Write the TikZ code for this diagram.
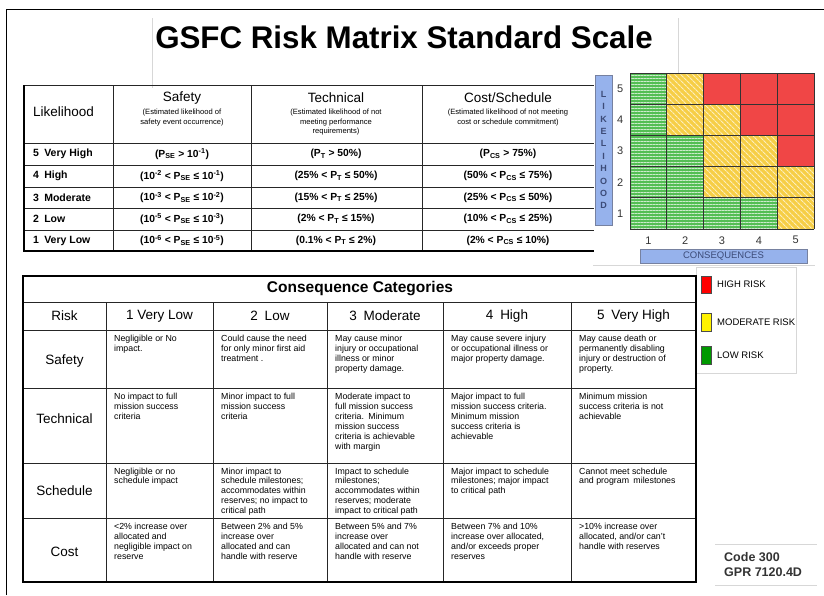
\documentclass[tikz,border=0pt]{standalone}
\usepackage{fontspec}
\setmainfont{Liberation Sans}
\usetikzlibrary{patterns.meta}

\definecolor{mgreen}{RGB}{84,190,84}
\definecolor{myellow}{RGB}{246,206,70}
\definecolor{mred}{RGB}{240,66,66}
\definecolor{barblue}{RGB}{150,178,236}
\definecolor{bardark}{RGB}{60,75,120}
\definecolor{faint}{RGB}{215,215,215}

\begin{document}
\begin{tikzpicture}[x=1pt,y=-1pt,every node/.style={inner sep=0pt},
   outer/.style={line width=2pt},
   inner/.style={line width=0.9pt,draw=black!85},
   thead/.style={font=\fontsize{13.5}{15}\selectfont},
   tsub/.style={font=\fontsize{7.6}{9.5}\selectfont,align=center},
   tval/.style={font=\fontsize{10.3}{12}\selectfont\bfseries},
   tlik/.style={font=\fontsize{10.5}{12}\selectfont\bfseries,anchor=west},
   chead/.style={font=\fontsize{13.5}{15}\selectfont},
   cell/.style={font=\fontsize{8.8}{9.9}\selectfont,align=left,anchor=north west},
   gcell/.style={fill=mgreen,postaction={pattern={Lines[distance=3pt,line width=1pt]},pattern color=white!70!mgreen}},
   ycell/.style={fill=myellow,postaction={pattern={Lines[angle=-45,distance=4pt,line width=1.2pt]},pattern color=white!65!myellow}},
   rcell/.style={fill=mred,postaction={pattern={Dots[distance=2pt,radius=0.35pt]},pattern color=white!30!mred}},
   mnum/.style={font=\fontsize{11}{12}\selectfont,text=black!80},
   bar/.style={fill=barblue,draw=bardark!70,line width=0.6pt},
   legsq/.style={draw=black!70,line width=0.6pt},
   legtext/.style={font=\fontsize{9.5}{11}\selectfont,anchor=west}]
\useasboundingbox (0,0) rectangle (824,595);

% slide frame and faint rules
\draw[line width=1pt] (6,595) -- (6,9) -- (824,9);
\draw[faint] (152,18) -- (152,88) (678,18) -- (678,88);
\draw[faint] (593,265) -- (815,265);
\draw[faint] (715,544) -- (817,544) (715,585) -- (817,585);

\node[font=\fontsize{31.3}{36}\selectfont\bfseries] (title) at (404,37) {GSFC Risk Matrix Standard Scale};

% likelihood table
\draw[inner] (24,85) -- (594,85);
\draw[inner] (24,143) -- (594,143) (24,165) -- (594,165) (24,187) -- (594,187)
   (24,208) -- (594,208) (24,230) -- (594,230);
\draw[inner] (113,85) -- (113,251) (251,85) -- (251,251) (422,85) -- (422,251);
\draw[outer] (24,85) -- (24,251) -- (594,251);

\node[thead,anchor=west] (hlik) at (33,112) {Likelihood};
\node[thead] (hsaf) at (182,98) {Safety};
\node[tsub] (ssaf) at (182,117.5) {(Estimated likelihood of\\safety event occurrence)};
\node[thead] (htec) at (336,98) {Technical};
\node[tsub] (stec) at (336,122.5) {(Estimated likelihood of not\\meeting performance\\requirements)};
\node[thead] (hcos) at (508,98) {Cost/Schedule};
\node[tsub] (scos) at (508,117.5) {(Estimated likelihood of not meeting\\cost or schedule commitment)};

\node[tlik] (l5) at (33,154) {5\enspace Very High};
\node[tlik] (l4) at (33,176) {4\enspace High};
\node[tlik] (l3) at (33,197.5) {3\enspace Moderate};
\node[tlik] (l2) at (33,219) {2\enspace Low};
\node[tlik] (l1) at (33,240.5) {1\enspace Very Low};

\node[tval] (s5) at (182,154) {(P\textsubscript{SE} > 10\textsuperscript{-1})};
\node[tval] (s4) at (182,176) {(10\textsuperscript{-2} < P\textsubscript{SE} ≤ 10\textsuperscript{-1})};
\node[tval] (s3) at (182,197.5) {(10\textsuperscript{-3} < P\textsubscript{SE} ≤ 10\textsuperscript{-2})};
\node[tval] (s2) at (182,219) {(10\textsuperscript{-5} < P\textsubscript{SE} ≤ 10\textsuperscript{-3})};
\node[tval] (s1) at (182,240.5) {(10\textsuperscript{-6} < P\textsubscript{SE} ≤ 10\textsuperscript{-5})};

\node[tval] (t5) at (336,154) {(P\textsubscript{T} > 50\%)};
\node[tval] (t4) at (336,176) {(25\% < P\textsubscript{T} ≤ 50\%)};
\node[tval] (t3) at (336,197.5) {(15\% < P\textsubscript{T} ≤ 25\%)};
\node[tval] (t2) at (336,219) {(2\% < P\textsubscript{T} ≤ 15\%)};
\node[tval] (t1) at (336,240.5) {(0.1\% < P\textsubscript{T} ≤ 2\%)};

\node[tval] (c5) at (508,154) {(P\textsubscript{CS} > 75\%)};
\node[tval] (c4) at (508,176) {(50\% < P\textsubscript{CS} ≤ 75\%)};
\node[tval] (c3) at (508,197.5) {(25\% < P\textsubscript{CS} ≤ 50\%)};
\node[tval] (c2) at (508,219) {(10\% < P\textsubscript{CS} ≤ 25\%)};
\node[tval] (c1) at (508,240.5) {(2\% < P\textsubscript{CS} ≤ 10\%)};

% risk matrix
\begin{scope}[shift={(630,229)},x=36.8pt,y=31.2pt]
  \foreach \c/\r in {1/1,2/1,3/1,4/1,1/2,2/2,1/3,2/3,1/4,1/5}
    \path[gcell] (\c-1,\r-1) rectangle (\c,\r);
  \foreach \c/\r in {5/1,3/2,4/2,5/2,3/3,4/3,2/4,3/4,2/5}
    \path[ycell] (\c-1,\r-1) rectangle (\c,\r);
  \foreach \c/\r in {5/3,4/4,5/4,3/5,4/5,5/5}
    \path[rcell] (\c-1,\r-1) rectangle (\c,\r);
  \draw[line width=0.9pt,black!80,step=1] (0,0) grid (5,5);
  \foreach \n in {1,...,5} {
    \node[mnum] (row\n) at (-0.27,\n-0.5) {\n};
    \node[mnum] (col\n) at (\n-0.5,-0.36) {\n};
  }
\end{scope}
\draw[bar] (595,75) rectangle (612,225);
\node[font=\fontsize{9}{12.4}\selectfont\bfseries,align=center,text=bardark] (likword) at (603.5,150) {L\\I\\K\\E\\L\\I\\H\\O\\O\\D};
\draw[bar] (640,249) rectangle (807,263);
\node[font=\fontsize{9.5}{11}\selectfont,text=bardark] (conword) at (723.5,256) {CONSEQUENCES};

% legend
\draw[faint] (696,267) rectangle (796,373);
\draw[legsq,fill=red] (701,276) rectangle (711,293);
\draw[legsq,fill=yellow] (701,313) rectangle (711,331);
\draw[legsq,fill=green!60!black] (701,346) rectangle (711,364);
\node[legtext] (high) at (717,284.5) {HIGH RISK};
\node[legtext] (mod) at (717,322) {MODERATE RISK};
\node[legtext] (low) at (717,355.5) {LOW RISK};

% consequence table
\draw[inner] (23,302) -- (696,302) (23,330) -- (696,330) (23,388) -- (696,388)
   (23,463) -- (696,463) (23,518) -- (696,518);
\draw[inner] (106,302) -- (106,582) (213,302) -- (213,582) (327,302) -- (327,582)
   (443,302) -- (443,582) (571,302) -- (571,582);
\draw[outer] (23,276) rectangle (696,582);

\node[font=\fontsize{15.5}{17}\selectfont\bfseries] (cats) at (360,289) {Consequence Categories};
\node[chead] (hrisk) at (64.5,316) {Risk};
\node[chead] (h1) at (159.5,316) {1 Very Low};
\node[chead] (h2) at (270,316) {2\enspace Low};
\node[chead] (h3) at (385,316) {3\enspace Moderate};
\node[chead] (h4) at (507,316) {4\enspace High};
\node[chead] (h5) at (633.5,316) {5\enspace Very High};

\node[chead] (rsaf) at (64.5,361) {Safety};
\node[chead] (rtec) at (64.5,419) {Technical};
\node[chead] (rsch) at (64.5,491) {Schedule};
\node[chead] (rcos) at (64.5,552) {Cost};

\node[cell] (saf1) at (114,335) {Negligible or No\\impact.};
\node[cell] (saf2) at (221,335) {Could cause the need\\for only minor first aid\\treatment .};
\node[cell] (saf3) at (335,335) {May cause minor\\injury or occupational\\illness or minor\\property damage.};
\node[cell] (saf4) at (451,335) {May cause severe injury\\or occupational illness or\\major property damage.};
\node[cell] (saf5) at (579,335) {May cause death or\\permanently disabling\\injury or destruction of\\property.};

\node[cell] (tec1) at (114,393) {No impact to full\\mission success\\criteria};
\node[cell] (tec2) at (221,393) {Minor impact to full\\mission success\\criteria};
\node[cell] (tec3) at (335,393) {Moderate impact to\\full mission success\\criteria.\enspace Minimum\\mission success\\criteria is achievable\\with margin};
\node[cell] (tec4) at (451,393) {Major impact to full\\mission success criteria.\\Minimum mission\\success criteria is\\achievable};
\node[cell] (tec5) at (579,393) {Minimum mission\\success criteria is not\\achievable};

\node[cell] (sch1) at (114,467.5) {Negligible or no\\schedule impact};
\node[cell] (sch2) at (221,467.5) {Minor impact to\\schedule milestones;\\accommodates within\\reserves; no impact to\\critical path};
\node[cell] (sch3) at (335,467.5) {Impact to schedule\\milestones;\\accommodates within\\reserves; moderate\\impact to critical path};
\node[cell] (sch4) at (451,467.5) {Major impact to schedule\\milestones; major impact\\to critical path};
\node[cell] (sch5) at (579,467.5) {Cannot meet schedule\\and program\enspace milestones};

\node[cell] (cos1) at (114,523) {<2\% increase over\\allocated and\\negligible impact on\\reserve};
\node[cell] (cos2) at (221,523) {Between 2\% and 5\%\\increase over\\allocated and can\\handle with reserve};
\node[cell] (cos3) at (335,523) {Between 5\% and 7\%\\increase over\\allocated and can not\\handle with reserve};
\node[cell] (cos4) at (451,523) {Between 7\% and 10\%\\increase over allocated,\\and/or exceeds proper\\reserves};
\node[cell] (cos5) at (579,523) {>10\% increase over\\allocated, and/or can't\\handle with reserves};

\node[font=\fontsize{12.5}{15}\selectfont\bfseries,text=black!80,align=left,anchor=north west] (code) at (724,552) {Code 300\\GPR 7120.4D};
\end{tikzpicture}
\end{document}
